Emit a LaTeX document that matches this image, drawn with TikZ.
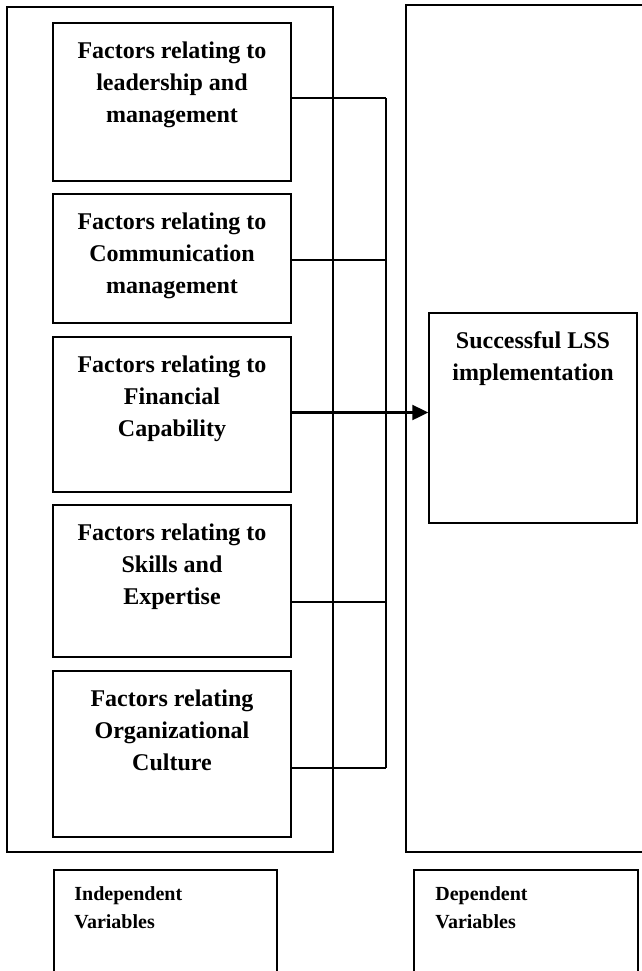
\documentclass[tikz,border=0pt]{standalone}
\usepackage{fontspec}
\setmainfont{Liberation Serif}
\usepackage{tikz}
\usetikzlibrary{arrows.meta}
\usetikzlibrary{positioning}

\begin{document}
\begin{tikzpicture}[
x = 0.5pt, y = -0.5pt,
grprect/.style={rectangle, draw = black, line width = 0.6pt, minimum width = 163pt, minimum height = 422.5pt},
facrect/.style={rectangle, draw = black, line width = 0.7pt, minimum width = 119pt},
factext/.style={anchor = north, align = center, inner sep = 0pt, font = \fontsize{12pt}{16pt}\selectfont\bfseries},
varrect/.style={rectangle, draw = black, line width = 0.7pt, minimum height = 60pt},
vartext/.style={anchor = north west, align = left, inner sep = 0pt, font = \fontsize{10pt}{14pt}\selectfont\bfseries},
conline/.style={draw = black, line width = 0.6pt},
conarr/.style={-{Triangle[length = 8pt, width = 7.5pt]}, draw = black, line width = 1.1pt}]

\useasboundingbox (0,0) rectangle (642,971);
\clip (0,0) rectangle (642,971);

% left column
\node[grprect] (IV) at (170,429.5) {};
\node[facrect, minimum height = 79pt] (F1) at (172,102) {};
\node[factext] (T1) at (172,41) {Factors relating to\\leadership and\\management};
\node[facrect, minimum height = 64.5pt] (F2) at (172,258.5) {};
\node[factext] (T2) at (172,212) {Factors relating to\\Communication\\management};
\node[facrect, minimum height = 77.5pt] (F3) at (172,414.5) {};
\node[factext] (T3) at (172,355) {Factors relating to\\Financial\\Capability};
\node[facrect, minimum height = 76pt] (F4) at (172,581) {};
\node[factext] (T4) at (172,523) {Factors relating to\\Skills and\\Expertise};
\node[facrect, minimum height = 83pt] (F5) at (172,754) {};
\node[factext] (T5) at (172,689) {Factors relating\\Organizational\\Culture};

% right column
\node[grprect, minimum width = 122pt, minimum height = 423.5pt] (DV) at (528,428.5) {};
\node[rectangle, draw = black, line width = 0.7pt, minimum width = 104pt, minimum height = 105pt] (LSS) at (533,418) {};
\node[factext] (TL) at (533,331) {Successful LSS\\implementation};

% connectors
\coordinate (J1) at (386,98);
\coordinate (J2) at (386,260);
\coordinate (J4) at (386,602);
\coordinate (J5) at (386,768);
\draw[conline] (J1 -| F1.east) -- (J1);
\draw[conline] (J2 -| F2.east) -- (J2);
\draw[conline] (J4 -| F4.east) -- (J4);
\draw[conline] (J5 -| F5.east) -- (J5);
\draw[conline] (J1) -- (J5);
\draw[conarr] ([yshift=1pt]F3.east) -- ([yshift=1pt]F3.east -| LSS.west);

% legend
\node[varrect, minimum width = 111.5pt] (IL) at (165.5,930) {};
\node[vartext] (IT) at (74,886) {Independent\\Variables};
\node[varrect, minimum width = 112pt] (DL) at (526,930) {};
\node[vartext] (DT) at (435,886) {Dependent\\Variables};

\end{tikzpicture}
\end{document}
